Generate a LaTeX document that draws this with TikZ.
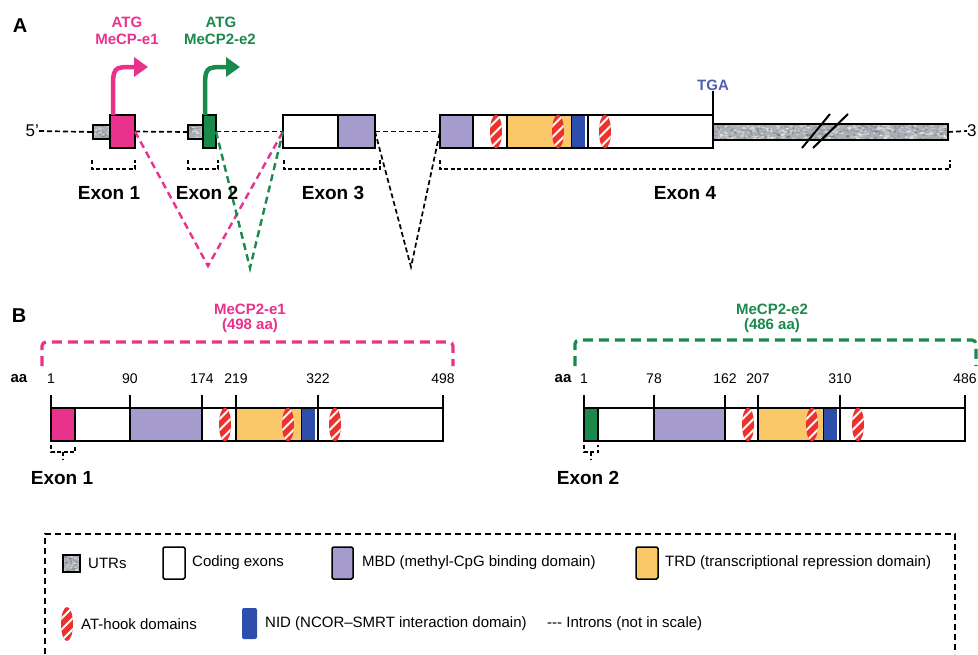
\documentclass[tikz,border=0pt]{standalone}
\usepackage{fontspec}
\setmainfont{Liberation Sans}
\usetikzlibrary{arrows.meta,calc}

\definecolor{pinkc}{RGB}{232,50,140}
\definecolor{greenc}{RGB}{26,138,76}
\definecolor{mbdc}{RGB}{165,155,205}
\definecolor{trdc}{RGB}{250,200,105}
\definecolor{nidc}{RGB}{45,78,170}
\definecolor{atc}{RGB}{235,50,45}
\definecolor{utrc}{RGB}{170,176,182}
\definecolor{tgac}{RGB}{80,95,175}

% box node from corner coordinates: name, x1, y1, x2, y2, style
\newcommand\bx[6]{\node[#6, minimum width={(#4-#2)*1pt}, minimum height={(#5-#3)*1pt}] (#1) at ({(#2+#4)/2},{(#3+#5)/2}) {};}

% mottled texture inside a UTR box: x1, y1, x2, y2, number of spots
\newcommand\mottle[5]{%
  \begin{scope}
    \clip ({#1+0.8},{#2+0.8}) rectangle ({#3-0.8},{#4-0.8});
    \foreach \i in {1,...,#5} {
      \pgfmathsetmacro\px{#1+rnd*(#3-#1)}
      \pgfmathsetmacro\py{#2+rnd*(#4-#2)}
      \pgfmathsetmacro\pr{0.8+1.6*rnd}
      \fill[white, opacity=0.45] (\px,\py) ellipse [x radius=\pr pt, y radius=0.9pt];
      \pgfmathsetmacro\qx{#1+rnd*(#3-#1)}
      \pgfmathsetmacro\qy{#2+rnd*(#4-#2)}
      \fill[black, opacity=0.18] (\qx,\qy) ellipse [x radius=1.4pt, y radius=0.8pt];
    }
  \end{scope}
  \draw[line width=1.5pt] (#1,#2) rectangle (#3,#4);
}

\tikzset{
  box/.style={draw=black, line width=1.5pt, inner sep=0pt, outer sep=0pt, rectangle},
  fbox/.style={inner sep=0pt, outer sep=0pt, rectangle},
  panel/.style={font=\fontsize{20}{22}\selectfont\bfseries, inner sep=0pt},
  lbl/.style={font=\fontsize{19}{21}\selectfont\bfseries, inner sep=0pt},
  ttl/.style={font=\fontsize{15}{17}\selectfont\bfseries, inner sep=0pt},
  num/.style={font=\fontsize{14}{16}\selectfont, inner sep=0pt},
  leg/.style={font=\fontsize{15}{17}\selectfont, inner sep=0pt, anchor=west},
  intron/.style={draw=black, dash pattern=on 5pt off 3pt, line width=1.7pt},
  brk/.style={draw=black, line width=1.5pt, dash pattern=on 4pt off 2.5pt},
  tick/.style={draw=black, line width=1.5pt},
  tss/.style={line width=4.5pt, -{Triangle[length=14pt,width=19pt]}},
  splice/.style={line width=2.4pt, dash pattern=on 7pt off 4.5pt},
  athook/.pic={
    \fill[atc] (0,0) ellipse [x radius=6pt, y radius=17pt];
    \begin{scope}
      \clip (0,0) ellipse [x radius=6pt, y radius=17pt];
      \foreach \d in {-11,0,11} \draw[white, line width=2.1pt] (-8,\d+8) -- (8,\d-8);
    \end{scope}
  }
}

\begin{document}
\begin{tikzpicture}[x=1pt,y=-1pt]
\pgfmathsetseed{4217}
\useasboundingbox (0,0) rectangle (978,654);
\fill[white] (0,0) rectangle (978,654);

% ---------------- Panel A: gene structure ----------------
\node[panel] (lA) at (20,26) {A};

\node[ttl, text=pinkc] (atg1) at (127,22) {ATG};
\node[ttl, text=pinkc] (mecp1) at (127,39) {MeCP-e1};
\node[ttl, text=greenc] (atg2) at (221,22) {ATG};
\node[ttl, text=greenc] (mecp2) at (220,39) {MeCP2-e2};

% introns along the gene
\node[font=\fontsize{17}{19}\selectfont, anchor=east, inner sep=0pt] (p5) at (39,131) {5'};
\node[font=\fontsize{17}{19}\selectfont, anchor=west, inner sep=0pt] (p3) at (967,131) {3};

% exons and UTRs
\bx{utr1}{93}{125}{110}{139}{box, fill=utrc}
\mottle{93}{125}{110}{139}{18}
\bx{ex1}{110}{115}{135}{148}{box, fill=pinkc}
\bx{utr2}{188}{125}{203}{139}{box, fill=utrc}
\mottle{188}{125}{203}{139}{16}
\bx{ex2}{203}{115}{216}{148}{box, fill=greenc}
\bx{ex3}{283}{115}{375}{148}{box, fill=white}
\bx{mbd3}{338}{115}{375}{148}{box, fill=mbdc}
\bx{utr3}{713}{124}{948}{140}{box, fill=utrc}
\mottle{713}{124}{948}{140}{260}
\bx{ex4}{440}{115}{713}{148}{box, fill=white}
\bx{mbd4}{440}{115}{473}{148}{box, fill=mbdc}
\bx{trd4}{507}{115}{572}{148}{box, fill=trdc}
\bx{nid4}{572}{116}{585}{147}{fbox, fill=nidc}
\draw[tick] (588,115) -- (588,148);
\draw[line width=1.5pt] (ex4.north west) rectangle (ex4.south east);
\pic at (496,131.5) {athook};
\pic at (558,131.5) {athook};
\pic at (605,131.5) {athook};

\draw[intron] (p5.east) -- (utr1.west);
\draw[intron] (ex1.east) -- (utr2.west);
\draw[intron] (ex2.east) -- (ex3.west);
\draw[intron] (ex3.east) -- (ex4.west);
\draw[intron] (utr3.east) -- (p3.west);

% break marks on the 3' UTR
\draw[line width=2pt] (802,148) -- (830,114);
\draw[line width=2pt] (813,148) -- (848,114);

% stop codon
\node[ttl, text=tgac] (tga) at (713,85) {TGA};
\draw[line width=1.5pt] (tga.south) -- (ex4.north east);

% transcription start sites
\coordinate (tip1) at (148,67);
\coordinate (tip2) at (240,67);
\draw[pinkc, tss] ([xshift=3pt]ex1.north west) -- (113,92) .. controls (113,67) .. (134,67) -- (tip1);
\draw[greenc, tss] ([xshift=2pt]ex2.north west) -- (205,92) .. controls (205,67) .. (226,67) -- (tip2);

% splicing
\coordinate (v1) at (208,266);
\coordinate (v2) at (250,268);
\coordinate (v3) at (411,267);
\draw[pinkc, splice] (ex1.east) -- (v1) -- (ex3.west);
\draw[greenc, splice] (ex2.east) -- (v2) -- (ex3.west);
\draw[intron] (mbd3.east) -- (v3) -- (ex4.west);

% exon brackets
\draw[brk] (92,160) -- (92,169) -- (135,169) -- (135,160);
\draw[brk] (188,160) -- (188,169) -- (218,169) -- (218,160);
\draw[brk] (284,160) -- (284,169) -- (380,169) -- (380,160);
\draw[brk] (440,160) -- (440,169) -- (950,169) -- (950,160);
\node[lbl] (e1) at (109,193) {Exon 1};
\node[lbl] (e2) at (207,193) {Exon 2};
\node[lbl] (e3) at (333,193) {Exon 3};
\node[lbl] (e4) at (685,193) {Exon 4};

% ---------------- Panel B: protein isoforms ----------------
\node[panel] (lB) at (19,316) {B};

% MeCP2-e1
\node[ttl, text=pinkc] (t1) at (250,309) {MeCP2-e1};
\node[ttl, text=pinkc] (t1b) at (250,326) {(498 aa)};
\draw[pinkc, line width=3.2pt, dash pattern=on 10pt off 6pt, rounded corners=4pt] (42,366) -- (42,342) -- (453,342) -- (453,366);
\node[ttl] (aa1) at (19,379) {aa};
\foreach \x/\t in {51/1,130/90,202/174,236/219,318/322,443/498} {
  \node[num] at (\x,379) {\t};
  \draw[tick] (\x,395) -- (\x,408);
}
\bx{pr1}{51}{408}{443}{441}{box, fill=white}
\bx{pex1}{51}{408}{75}{441}{box, fill=pinkc}
\bx{pmbd1}{130}{408}{202}{441}{box, fill=mbdc}
\bx{ptrd1}{236}{408}{302}{441}{box, fill=trdc}
\bx{pnid1}{302}{409}{315}{440}{fbox, fill=nidc}
\draw[tick] (318,408) -- (318,441);
\pic at (225,424.5) {athook};
\pic at (288,424.5) {athook};
\pic at (335,424.5) {athook};
\draw[brk, line width=1.3pt] (51,445) -- (51,452) -- (75,452) -- (75,445);
\draw[brk, line width=1.3pt] (63,452) -- (63,460);
\node[lbl] (pe1) at (62,478) {Exon 1};

% MeCP2-e2
\node[ttl, text=greenc] (t2) at (772,309) {MeCP2-e2};
\node[ttl, text=greenc] (t2b) at (772,326) {(486 aa)};
\draw[greenc, line width=3.2pt, dash pattern=on 10pt off 6pt, rounded corners=4pt] (575,366) -- (575,340) -- (976,340) -- (976,366);
\node[ttl] (aa2) at (563,379) {aa};
\foreach \x/\t in {584/1,654/78,725/162,758/207,840/310,965/486} {
  \node[num] at (\x,379) {\t};
  \draw[tick] (\x,395) -- (\x,408);
}
\bx{pr2}{584}{408}{965}{441}{box, fill=white}
\bx{pex2}{584}{408}{598}{441}{box, fill=greenc}
\bx{pmbd2}{654}{408}{725}{441}{box, fill=mbdc}
\bx{ptrd2}{758}{408}{824}{441}{box, fill=trdc}
\bx{pnid2}{824}{409}{837}{440}{fbox, fill=nidc}
\draw[tick] (840,408) -- (840,441);
\pic at (748,424.5) {athook};
\pic at (812,424.5) {athook};
\pic at (858,424.5) {athook};
\draw[brk, line width=1.3pt] (584,445) -- (584,452) -- (598,452) -- (598,445);
\draw[brk, line width=1.3pt] (591,452) -- (591,460);
\node[lbl] (pe2) at (588,478) {Exon 2};

% ---------------- Legend ----------------
\draw[draw=black, line width=1.5pt, dash pattern=on 6pt off 4pt] (45,654) -- (45,534) -- (955,534) -- (955,654);

\bx{lutr}{63}{555}{80}{572}{box, fill=utrc}
\mottle{63}{555}{80}{572}{20}
\node[leg] (tutr) at (88,563) {UTRs};
\bx{lcod}{163}{547}{185}{579}{box, fill=white, rounded corners=1.5pt}
\node[leg] (tcod) at (192,563) {Coding exons};
\bx{lmbd}{332}{547}{353}{579}{box, fill=mbdc, rounded corners=1.5pt}
\node[leg] (tmbd) at (362,563) {MBD (methyl-CpG binding domain)};
\bx{ltrd}{636}{547}{658}{579}{box, fill=trdc, rounded corners=1.5pt}
\node[leg] (ttrd) at (665,563) {TRD (transcriptional repression domain)};

\pic at (67,624) {athook};
\node[leg] (tat) at (81,624) {AT-hook domains};
\bx{lnid}{242}{608}{257}{639}{fbox, fill=nidc, rounded corners=2pt}
\node[leg] (tnid) at (265,624) {NID (NCOR–SMRT interaction domain)};
\node[leg] (tint) at (547,624) {-{}-{}- Introns (not in scale)};
\end{tikzpicture}
\end{document}
